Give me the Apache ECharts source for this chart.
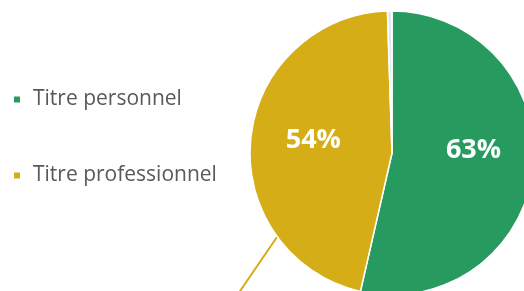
<!DOCTYPE html>
<html><head><meta charset="utf-8">
<script src="https://cdn.jsdelivr.net/npm/echarts@6/dist/echarts.min.js"></script>
<style>html,body{margin:0;padding:0;background:#fff}#c{width:524px;height:291px}</style>
</head><body><div id="c"></div>
<script>
const categories = ['Titre personnel', 'Titre professionnel', 'Autre'];
const values = [63, 54, 0.6];
const labels = ['63%', '54%', ''];
const colors = ['#279a60', '#d5ad17', '#dfe9ee'];

const chart = echarts.init(document.getElementById('c'), null, {renderer: 'canvas'});
chart.setOption({
  animation: false,
  legend: {
    orient: 'vertical', left: 7, top: 84, itemGap: 55,
    icon: 'rect', itemWidth: 8, itemHeight: 8,
    data: categories.slice(0, 2),
    textStyle: {fontFamily: 'Open Sans', fontSize: 21, color: '#595959', padding: [0, 0, 0, 7]}
  },
  series: [{
    type: 'pie', center: [392, 153], radius: 142, startAngle: 90, clockwise: true,
    itemStyle: {borderColor: '#fff', borderWidth: 1.5},
    label: {show: true, position: 'inside', color: '#fff', fontFamily: 'Open Sans', fontWeight: 'bold', fontSize: 27,
      formatter: p => labels[p.dataIndex]},
    labelLine: {show: false},
    data: categories.map((c, i) => ({name: c, value: values[i], itemStyle: {color: colors[i]},
      label: {offset: i === 0 ? [8, -11] : (i === 1 ? [-5, -6] : [0, 0])}}))
  }],
  graphic: [{type: 'line', shape: {x1: 277, y1: 237, x2: 236, y2: 297}, style: {stroke: '#d5ad17', lineWidth: 2}}]
});
</script></body></html>
